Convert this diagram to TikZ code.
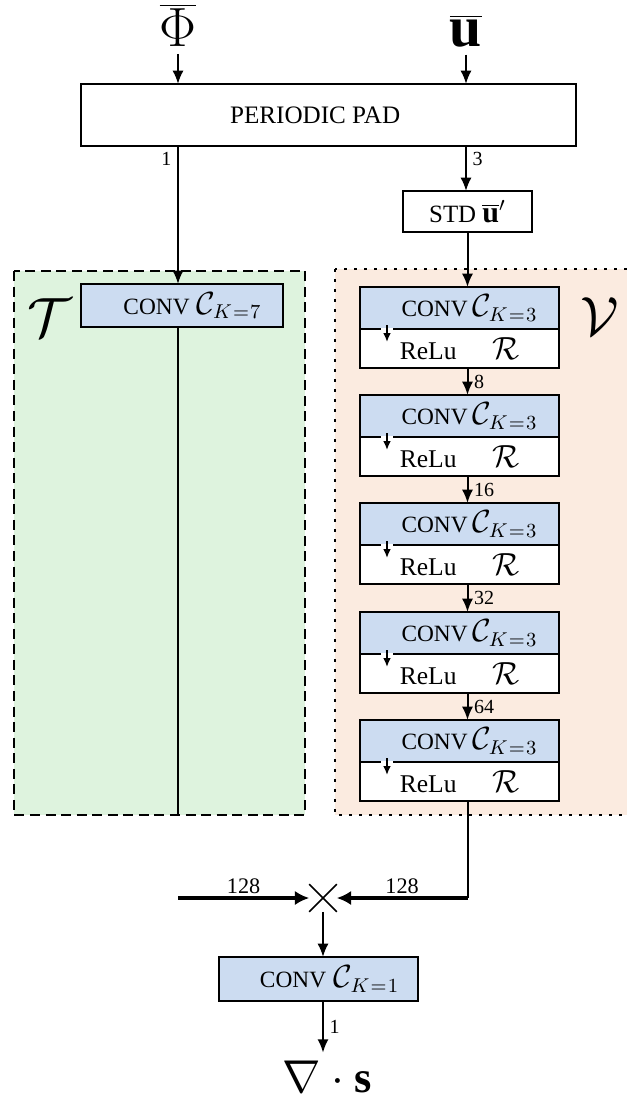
\documentclass[tikz,border=0pt]{standalone}
\usepackage{fontspec}
\setmainfont{Liberation Serif}
\usetikzlibrary{arrows.meta,shapes.misc}
\definecolor{tgreen}{RGB}{222,243,222}
\definecolor{vorange}{RGB}{251,235,224}
\definecolor{cblue}{RGB}{204,220,241}
\newcommand{\cmath}[1]{{\fontsize{13.5}{15}\selectfont$#1$}}
\begin{document}
\begin{tikzpicture}[x=0.45pt,y=-0.45pt,line width=0.9pt,>={Latex[length=6pt,width=5pt]},
box/.style={draw,line width=1pt,fill=white,font=\fontsize{10.5}{12}\selectfont,inner sep=0pt,outer sep=0pt},
conv/.style={box,fill=cblue,minimum width=89.55pt},
lab/.style={font=\fontsize{9}{10}\selectfont,inner sep=2.5pt},
big/.style={font=\fontsize{23}{26}\selectfont,inner sep=3pt},
small/.style={->,line width=0.9pt,>={Latex[length=4pt,width=3.5pt]}},
fat/.style={->,>={Latex[length=6.5pt,width=6.5pt]}}]
\useasboundingbox (0,0) rectangle (626,1101);
\fill[tgreen] (14,271) rectangle (305,815);
\draw[dash pattern=on 4.5pt off 2.5pt,line width=1.3pt] (14,271) rectangle (305,815);
\fill[vorange] (335,269) rectangle (640,815);
\draw[dash pattern=on 1.3pt off 3.2pt,line width=1.3pt] (335,269) rectangle (640,815);
\node[big] (phi) at (178,25) {$\overline{\Phi}$};
\node[big,font=\fontsize{26}{29}\selectfont] (ubar) at (466,31) {$\overline{\mathbf{u}}$};
\node[box,font=\fontsize{11.3}{13}\selectfont,minimum width=222.75pt,minimum height=27.9pt] (pad) at (328.5,115) {\hspace{-12pt}PERIODIC PAD};
\node[box,font=\fontsize{11.2}{13}\selectfont,minimum width=58pt,minimum height=18.45pt] (std) at (467.5,211.5) {STD \cmath{\overline{\mathbf{u}}'}};
\node[conv,minimum width=90.9pt,minimum height=19.35pt] (tconv) at (182,305.5) {\hspace{9.5pt}CONV\hspace{3pt}\cmath{\mathcal{C}_{K\mkern1mu=\mkern1mu7}}};
\node[big,font=\fontsize{25}{28}\selectfont] (tlab) at (50,318) {$\mathcal{T}$};
\node[big,font=\fontsize{25}{28}\selectfont] (vlab) at (600,317) {$\mathcal{V}$};
\foreach \i/\y in {1/287,2/395,3/503,4/612,5/720}{
\node[conv,minimum height=18.9pt,anchor=north] (c\i) at (459.5,\y) {\hspace{9pt}CONV\hspace{2pt}\cmath{\mathcal{C}_{K\mkern1mu=\mkern1mu3}}};
\node[box,font=\fontsize{11.5}{13}\selectfont,minimum width=89.55pt,minimum height=17.55pt,anchor=north] (r\i) at (c\i.south) {ReLu\hspace{16pt}\cmath{\mathcal{R}}};
\draw[white,line width=1.3pt] ([shift={(21,0)}]r\i.north west) -- ++(12,0);
\draw[small] ([shift={(27,-4)}]r\i.north west) -- ++(0,17);
}
\node[cross out,draw,line width=0.7pt,minimum size=11.7pt,inner sep=0pt] (cross) at (323,898) {};
\node[conv,minimum height=19.8pt] (k1) at (318.5,979) {\hspace{10pt}CONV\hspace{3.5pt}\cmath{\mathcal{C}_{K\mkern1mu=\mkern1mu1}}};
\node[font=\fontsize{20}{23}\selectfont] (div) at (327,1077) {$\nabla\cdot\mathbf{s}$};
\coordinate (tend) at (178,815);
\coordinate (tout) at (phi |- cross);
\coordinate (vout) at (std |- cross);
\draw[->] (phi) -- (phi |- pad.north);
\draw[->] (ubar) -- (ubar |- pad.north);
\draw[->] (phi |- pad.south) -- (phi |- tconv.north) node[lab,pos=0,below left]{1};
\draw[->] (ubar |- pad.south) -- (ubar |- std.north) node[lab,pos=0,below right]{3};
\draw[->] (std) -- (std |- c1.north);
\foreach \a/\b/\n in {1/2/8,2/3/16,3/4/32,4/5/64}
\draw[->] (std |- r\a.south) -- (std |- c\b.north) node[lab,midway,right]{\n};
\draw (phi |- tconv.south) -- (tend);
\draw (std |- r5.south) -- (vout);
\draw[fat,line width=1.6pt] (tout) -- (cross) node[lab,midway,above,font=\fontsize{10}{11}\selectfont,inner sep=1pt]{128};
\draw[fat,line width=1.9pt] (vout) -- (cross) node[lab,midway,above,font=\fontsize{10}{11}\selectfont,inner sep=1pt]{128};
\draw[->] (cross) -- (cross |- k1.north);
\draw[->] (cross |- k1.south) -- (cross |- div.north) node[lab,midway,right]{1};
\end{tikzpicture}
\end{document}
